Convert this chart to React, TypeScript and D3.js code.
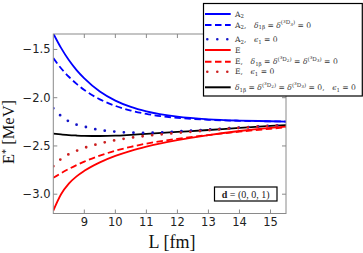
import * as d3 from "d3";

const lValues = [8, 8.25, 8.5, 8.75, 9, 9.5, 10, 10.5, 11, 12, 13, 14, 15, 15.5];

const a2Full = [-1.335, -1.484, -1.61, -1.714, -1.8, -1.936, -2.03, -2.096, -2.142, -2.197, -2.224, -2.237, -2.244, -2.247];
const a2NoD = [-1.59, -1.695, -1.783, -1.857, -1.92, -2.017, -2.085, -2.133, -2.168, -2.209, -2.229, -2.24, -2.245, -2.247];
const a2NoEps = [-2.11, -2.19, -2.245, -2.28, -2.3, -2.335, -2.352, -2.362, -2.364, -2.35, -2.33, -2.31, -2.291, -2.283];
const eFull = [-3.17, -3.0, -2.89, -2.815, -2.758, -2.67, -2.603, -2.55, -2.507, -2.44, -2.387, -2.345, -2.313, -2.3];
const eNoD = [-2.83, -2.782, -2.738, -2.698, -2.662, -2.6, -2.55, -2.509, -2.476, -2.426, -2.387, -2.352, -2.322, -2.306];
const eNoEps = [-2.71, -2.635, -2.585, -2.55, -2.52, -2.475, -2.44, -2.415, -2.395, -2.365, -2.338, -2.313, -2.293, -2.285];
const noMixing = [-2.373, -2.381, -2.388, -2.392, -2.395, -2.397, -2.394, -2.385, -2.375, -2.355, -2.335, -2.313, -2.293, -2.285];

const xTicks = [9, 10, 11, 12, 13, 14, 15];
const yTicks = [-3.0, -2.5, -2.0, -1.5];

type Seg = [string, string];

const EM = "\u2003";

const series = [
  { values: a2Full, color: "#0000ff", kind: "solid", label: [["A", "r"], ["2", "sub"]] as Seg[] },
  {
    values: a2NoD, color: "#0000ff", kind: "dashed",
    label: [["A", "r"], ["2", "sub"], ["," + EM, "r"], ["δ", "i"], ["1β", "sub"], [" = ", "r"], ["δ", "i"],
      ["(", "sup"], ["3", "supsup"], ["D", "sup"], ["3", "supsub"], [")", "sup"], [" = 0", "r"]] as Seg[],
  },
  { values: a2NoEps, color: "#1414c8", kind: "dotted", label: [["A", "r"], ["2", "sub"], ["," + EM, "r"], ["ϵ", "i"], ["1", "sub"], [" = 0", "r"]] as Seg[] },
  { values: eFull, color: "#ff0000", kind: "solid", label: [["E", "r"]] as Seg[] },
  {
    values: eNoD, color: "#ff0000", kind: "dashed",
    label: [["E," + EM, "r"], ["δ", "i"], ["1β", "sub"], [" = ", "r"], ["δ", "i"],
      ["(", "sup"], ["3", "supsup"], ["D", "sup"], ["2", "supsub"], [")", "sup"], [" = ", "r"], ["δ", "i"],
      ["(", "sup"], ["3", "supsup"], ["D", "sup"], ["3", "supsub"], [")", "sup"], [" = 0", "r"]] as Seg[],
  },
  { values: eNoEps, color: "#cc2020", kind: "dotted", label: [["E," + EM, "r"], ["ϵ", "i"], ["1", "sub"], [" = 0", "r"]] as Seg[] },
  {
    values: noMixing, color: "#000000", kind: "solid",
    label: [["δ", "i"], ["1β", "sub"], [" = ", "r"], ["δ", "i"],
      ["(", "sup"], ["3", "supsup"], ["D", "sup"], ["2", "supsub"], [")", "sup"], [" = ", "r"], ["δ", "i"],
      ["(", "sup"], ["3", "supsup"], ["D", "sup"], ["3", "supsub"], [")", "sup"], [" = 0," + EM, "r"],
      ["ϵ", "i"], ["1", "sub"], [" = 0", "r"]] as Seg[],
  },
];

// order in which the curves are stacked (black under the dotted ones)
const drawOrder = [0, 1, 6, 3, 4, 2, 5];

const legendRows = [14, 25, 39.3, 50, 61.7, 71.7, 87.3];

const W = 363;
const H = 253;
const plot = { left: 53.3, right: 286, top: 34, bottom: 213.5 };

const x = d3.scaleLinear().domain([8, 15.5]).range([plot.left, plot.right]);
const y = d3.scaleLinear().domain([-3.2, -1.34]).range([plot.bottom, plot.top]);

const dash = (kind: string) => (kind === "dashed" ? "6.5 3.5" : kind === "dotted" ? "0 9.6" : undefined);
const width = (kind: string) => (kind === "dotted" ? 2.8 : 1.8);

const segStyle: Record<string, { dy: number; size: number; italic?: boolean }> = {
  r: { dy: 0, size: 7.6 },
  i: { dy: 0, size: 7.6, italic: true },
  sub: { dy: 1.8, size: 5.4 },
  sup: { dy: -3.3, size: 5.6 },
  supsup: { dy: -5.1, size: 4.2 },
  supsub: { dy: -2.1, size: 4.2 },
};

function MathLabel({ segs, x0, base }: { segs: Seg[]; x0: number; base: number }) {
  return (
    <text x={x0} y={base} fontFamily="'DejaVu Serif', serif" fill="#333" style={{ whiteSpace: "pre" }}>
      {segs.map(([t, k], i) => {
        const s = segStyle[k];
        return (
          <tspan key={i} y={base + s.dy} fontSize={s.size} fontStyle={s.italic ? "italic" : "normal"}>
            {t}
          </tspan>
        );
      })}
    </text>
  );
}

export default function App() {
  const line = d3
    .line<number>()
    .x((_, i) => x(lValues[i]))
    .y((v) => y(v))
    .curve(d3.curveMonotoneX);

  const fmt = d3.format(".1f");
  const axisGray = "#8a8a8a";
  const tick = 4;

  return (
    <div style={{ position: "fixed", left: 0, top: 0 }}>
      <svg width={W} height={H} viewBox={`0 0 ${W} ${H}`} style={{ display: "block", background: "#fff" }}>
        <defs>
          <clipPath id="plotClip">
            <rect x={plot.left} y={plot.top} width={plot.right - plot.left} height={plot.bottom - plot.top} />
          </clipPath>
        </defs>

        <g clipPath="url(#plotClip)">
          {drawOrder.map((idx) => {
            const s = series[idx];
            return (
              <path
                key={idx}
                d={line(s.values) ?? ""}
                fill="none"
                stroke={s.color}
                strokeWidth={width(s.kind)}
                strokeDasharray={dash(s.kind)}
                strokeLinecap={s.kind === "dotted" ? "round" : "butt"}
              />
            );
          })}
        </g>

        {/* frame and inward ticks on all four sides */}
        <rect
          x={plot.left}
          y={plot.top}
          width={plot.right - plot.left}
          height={plot.bottom - plot.top}
          fill="none"
          stroke={axisGray}
          strokeWidth={1}
        />
        {xTicks.map((t) => (
          <g key={t}>
            <line x1={x(t)} x2={x(t)} y1={plot.bottom} y2={plot.bottom - tick} stroke={axisGray} />
            <line x1={x(t)} x2={x(t)} y1={plot.top} y2={plot.top + tick} stroke={axisGray} />
            <text
              x={x(t)}
              y={226}
              textAnchor="middle"
              fontFamily="'DejaVu Sans', sans-serif"
              fontSize={11.5}
              fill="#222"
            >
              {t}
            </text>
          </g>
        ))}
        {yTicks.map((t) => (
          <g key={t}>
            <line x1={plot.left} x2={plot.left + tick} y1={y(t)} y2={y(t)} stroke={axisGray} />
            <line x1={plot.right} x2={plot.right - tick} y1={y(t)} y2={y(t)} stroke={axisGray} />
            <text
              x={50.5}
              y={y(t) + 4}
              textAnchor="end"
              fontFamily="'DejaVu Sans', sans-serif"
              fontSize={11.5}
              fill="#222"
            >
              {fmt(t)}
            </text>
          </g>
        ))}

        <text x={172} y={248} textAnchor="middle" fontFamily="'Liberation Serif', serif" fontSize={18} fill="#111">
          L [fm]
        </text>
        <text
          transform={`translate(13.5, 132) rotate(-90)`}
          textAnchor="middle"
          fontFamily="'Liberation Serif', serif"
          fontSize={16.5}
          fill="#111"
        >
          E<tspan fontSize={10} dy={-5}>*</tspan>
          <tspan dy={5}> [MeV]</tspan>
        </text>

        {/* lattice momentum box */}
        <rect x={214.5} y={187} width={62.5} height={14} fill="#fff" stroke="#000" strokeWidth={1.2} />
        <text x={245.7} y={197.6} textAnchor="middle" fontFamily="'Liberation Serif', serif" fontSize={10} fill="#222">
          <tspan fontWeight="bold">d</tspan> = (0, 0, 1)
        </text>

        {/* legend */}
        <rect x={203.5} y={3.5} width={158.8} height={92.5} fill="#fff" stroke="#000" strokeWidth={1.2} />
        {series.map((s, i) => {
          const ly = legendRows[i];
          return (
            <g key={i}>
              <line
                x1={s.kind === "dotted" ? 207.3 : 205}
                x2={s.kind === "dotted" ? 228 : 230.7}
                y1={ly}
                y2={ly}
                stroke={s.color}
                strokeWidth={s.kind === "dotted" ? 2.6 : 2}
                strokeDasharray={s.kind === "dotted" ? "0 10" : dash(s.kind)}
                strokeLinecap={s.kind === "dotted" ? "round" : "butt"}
              />
              <MathLabel segs={s.label} x0={235} base={ly + 2.6} />
            </g>
          );
        })}
      </svg>
    </div>
  );
}
